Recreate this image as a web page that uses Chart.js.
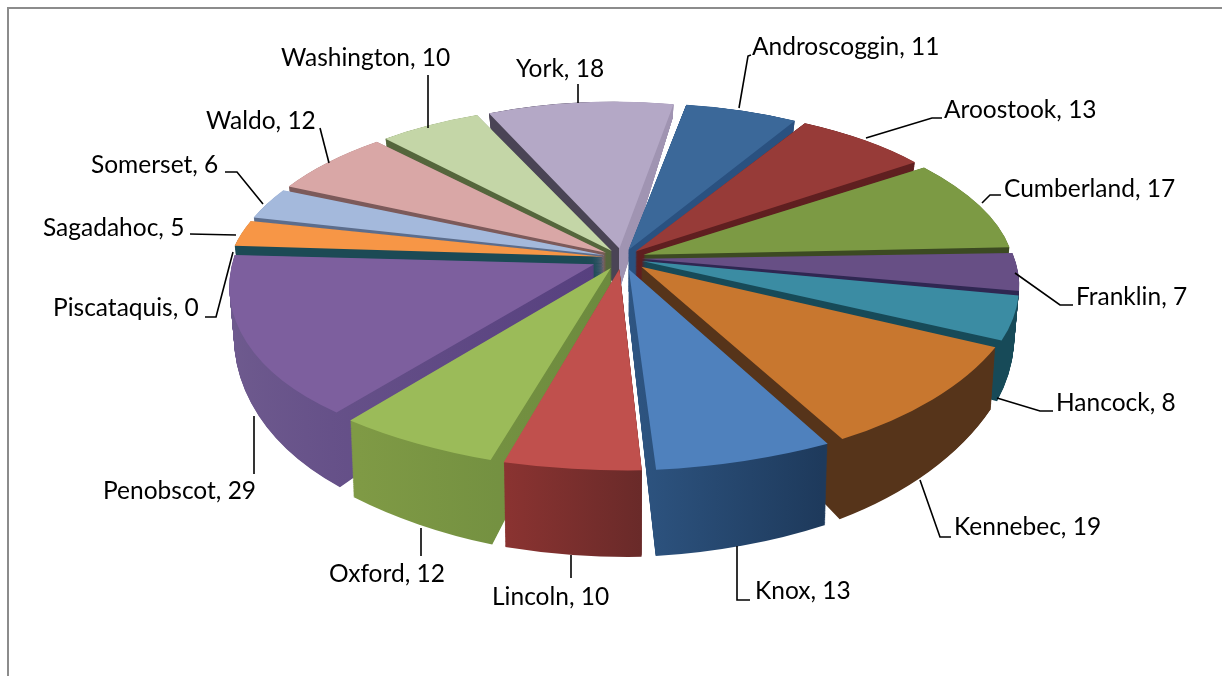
<!DOCTYPE html>
<html>
<head>
<meta charset="utf-8">
<script src="https://cdn.jsdelivr.net/npm/chart.js@4"></script>
<style>
    html, body { margin: 0; padding: 0; background: #fff; overflow: hidden; }
    #frame { position: absolute; left: 7px; top: 7px; width: 1215px; height: 669px; border-left: 2px solid #8c8c8c; border-top: 2px solid #8c8c8c; }
    #pie { position: absolute; left: 0; top: 0; }
</style>
</head>
<body>
<div id="frame"></div>
<canvas id="pie" width="1222" height="676"></canvas>
<script>
const counties = ['Androscoggin', 'Aroostook', 'Cumberland', 'Franklin', 'Hancock', 'Kennebec', 'Knox', 'Lincoln',
    'Oxford', 'Penobscot', 'Piscataquis', 'Sagadahoc', 'Somerset', 'Waldo', 'Washington', 'York'];
const counts = [11, 13, 17, 7, 8, 19, 13, 10, 12, 29, 0, 5, 6, 12, 10, 18];

const topColors = ['#3b6899', '#973b38', '#7c9a44', '#674f85', '#3b8ca3', '#c8772f', '#4f81bd', '#c0504d',
    '#9bbb59', '#7d5f9e', '#4bacc6', '#f79646', '#a4b9dc', '#d9a7a6', '#c4d6a7', '#b4a8c6'];
// side walls, left colour and right colour
const sideLeft = ['#2a5180', '#5f1f20', '#3c4a22', '#2f2752', '#174a58', '#56341a', '#2e5582', '#8a3331',
    '#7f9a45', '#6e5a8e', '#174a58', '#1c4a55', '#5c6d8c', '#7c5a5a', '#55663c', '#4a4455'];
const sideRight = ['#2a5180', '#5f1f20', '#3c4a22', '#2f2752', '#174a58', '#56341a', '#1e3a5c', '#692a29',
    '#6c8a3e', '#57407f', '#174a58', '#1c4a55', '#5c6d8c', '#7c5a5a', '#55663c', '#a094b2'];

// hand placed data labels, same order as counties: text left edge, text middle, leader line
const labelSpots = [
    { x: 752, y: 47, line: [[739, 108], [748, 56], [751, 55]] },
    { x: 944, y: 110, line: [[866, 138], [932, 118], [942, 118]] },
    { x: 1004, y: 189, line: [[982, 203], [990, 195], [1001, 195]] },
    { x: 1076, y: 297, line: [[1015, 273], [1060, 305], [1073, 305]] },
    { x: 1056, y: 403, line: [[997, 398], [1040, 411], [1053, 411]] },
    { x: 954, y: 527, line: [[920, 480], [940, 537], [951, 537]] },
    { x: 755, y: 591, line: [[737, 546], [737, 600], [750, 600]] },
    { x: 492, y: 597, line: [[571, 555], [571, 578]] },
    { x: 329, y: 574, line: [[421, 528], [421, 556]] },
    { x: 103, y: 491, line: [[254, 416], [254, 474]] },
    { x: 53, y: 308, line: [[233, 252], [216, 317], [205, 317]] },
    { x: 43, y: 228, line: [[236, 235], [190, 234]] },
    { x: 91, y: 165, line: [[263, 204], [237, 172], [225, 172]] },
    { x: 206, y: 121, line: [[329, 163], [320, 128]] },
    { x: 281, y: 58, line: [[428, 128], [428, 75]] },
    { x: 516, y: 69, line: [[578, 103], [578, 84]] }
];

// fake 3D camera
const hubX = 622, hubY = 258, radiusX = 358, radiusY = 164, persp = 0.155;
const hubDepth = 44, depthGrow = 0.2, shrinkX = 0.012, levels = 90;
const explode = 28;

function project(ux, uy) {
    const w = 1 / (1 - persp * uy);
    return [radiusX * ux * w, radiusY * uy * w];
}

// linear map of one slice: hub stays on hub, both rim ends land on their projected place
function sliceMatrix(el) {
    const r = el.outerRadius;
    const [c1, s1, c2, s2] = [Math.cos(el.startAngle), Math.sin(el.startAngle), Math.cos(el.endAngle), Math.sin(el.endAngle)];
    const p1 = project(c1, s1), p2 = project(c2, s2);
    const det = r * r * (c1 * s2 - c2 * s1);
    return [
        (p1[0] * r * s2 - p2[0] * r * s1) / det,
        (-p1[0] * r * c2 + p2[0] * r * c1) / det,
        (p1[1] * r * s2 - p2[1] * r * s1) / det,
        (-p1[1] * r * c2 + p2[1] * r * c1) / det
    ];
}

function setLevel(ctx, el, m, t) {
    const sx = 1 - shrinkX * t, sy = 1 + depthGrow * t;
    ctx.setTransform(sx * m[0], sy * m[2], sx * m[1], sy * m[3],
        hubX - sx * (m[0] * el.x + m[1] * el.y),
        hubY + hubDepth * t - sy * (m[2] * el.x + m[3] * el.y));
}

function sideFill(ctx, el, i) {
    const r = el.outerRadius;
    const xs = [0, Math.cos(el.startAngle) * r, Math.cos(el.endAngle) * r];
    const minX = Math.min(...xs), maxX = Math.max(...xs);
    const g = ctx.createLinearGradient(el.x + minX, 0, el.x + maxX, 0);
    const mid = (el.startAngle + el.endAngle) / 2;
    if (Math.sin(mid) < 0 && minX < 0 && maxX > 0) {
        // back slice with both cut faces showing
        const stop = -minX / (maxX - minX);
        g.addColorStop(0, sideLeft[i]);
        g.addColorStop(stop, sideLeft[i]);
        g.addColorStop(stop, sideRight[i]);
        g.addColorStop(1, sideRight[i]);
    } else {
        g.addColorStop(0, sideLeft[i]);
        g.addColorStop(1, sideRight[i]);
    }
    return g;
}

function paintArc(ctx, el, fill) {
    const orig = el.options;
    el.options = Object.create(orig, { backgroundColor: { value: fill } });
    el.draw(ctx);
    el.options = orig;
}

// the arc element pushes thin slices further out, undo that so all move the same
const total = counts.reduce((a, b) => a + b, 0);
const offsets = counts.map(v => explode * 4 / (2 - Math.sin(Math.min(Math.PI, v / total * Math.PI * 2))));

const pie3d = {
    id: 'pie3d',
    beforeDatasetsDraw(chart) {
        const ctx = chart.ctx;
        const arcs = chart.getDatasetMeta(0).data;
        const order = arcs.map((el, i) => i).filter(i => counts[i] > 0);
        order.sort((a, b) => Math.sin((arcs[a].startAngle + arcs[a].endAngle) / 2) - Math.sin((arcs[b].startAngle + arcs[b].endAngle) / 2));
        ctx.save();
        order.forEach(i => {
            const el = arcs[i];
            const m = sliceMatrix(el);
            const side = sideFill(ctx, el, i);
            for (let l = levels; l > 0; l--) {
                setLevel(ctx, el, m, l / levels);
                paintArc(ctx, el, side);
            }
            setLevel(ctx, el, m, 0);
            paintArc(ctx, el, topColors[i]);
        });
        ctx.restore();

        // labels and leader lines
        ctx.save();
        ctx.setTransform(1, 0, 0, 1, 0, 0);
        ctx.strokeStyle = '#000';
        ctx.lineWidth = 1.6;
        ctx.fillStyle = '#000';
        ctx.font = '24.5px Lato';
        ctx.textBaseline = 'middle';
        counties.forEach((name, i) => {
            const spot = labelSpots[i];
            ctx.beginPath();
            spot.line.forEach((p, k) => k ? ctx.lineTo(p[0], p[1]) : ctx.moveTo(p[0], p[1]));
            ctx.stroke();
            ctx.fillText(name + ', ' + counts[i], spot.x, spot.y);
        });
        ctx.restore();
        return false;
    }
};

new Chart(document.getElementById('pie'), {
    type: 'pie',
    data: {
        labels: counties,
        datasets: [{ data: counts, backgroundColor: topColors, borderWidth: 0, offset: offsets }]
    },
    options: {
        responsive: false,
        animation: false,
        rotation: 10,
        events: [],
        plugins: { legend: { display: false }, tooltip: { enabled: false } }
    },
    plugins: [pie3d]
});
</script>
</body>
</html>
